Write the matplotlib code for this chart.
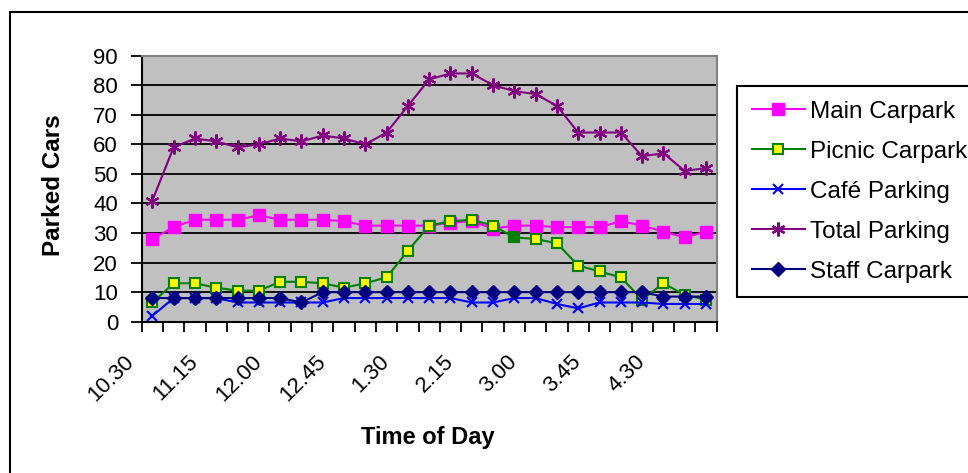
import matplotlib.pyplot as plt
import matplotlib.patches as patches
import matplotlib.transforms as mtransforms
import numpy as np

plt.rcParams['font.family'] = ['Liberation Sans', 'DejaVu Sans']

# quarter-hour readings from 10.30 to 5.00
times = ['10.30', '10.45', '11.00', '11.15', '11.30', '11.45', '12.00', '12.15', '12.30',
         '12.45', '1.00', '1.15', '1.30', '1.45', '2.00', '2.15', '2.30', '2.45',
         '3.00', '3.15', '3.30', '3.45', '4.00', '4.15', '4.30', '4.45', '5.00']

main_carpark = [28, 32, 34.5, 34.5, 34.5, 36, 34.5, 34.5, 34.5, 34, 32.5, 32.5, 32.5, 32.5,
                33.5, 34, 31.5, 32.5, 32.5, 32, 32, 32, 34, 32.5, 30.5, 28.5, 30.5]
picnic_carpark = [6.5, 13, 13, 11.5, 10.5, 10.5, 13.5, 13.5, 13, 11.5, 13, 15, 24, 32.5,
                  34, 34.5, 32.5, 28.5, 28, 26.5, 19, 17, 15, 7.5, 13, 9, 7.5]
cafe_parking = [2, 8, 8, 8, 6.5, 6.5, 6.5, 6.5, 6.5, 8, 8, 8, 8, 8,
                8, 6.5, 6.5, 8, 8, 6, 4.5, 6.5, 6.5, 6.5, 6, 6, 6]
total_parking = [41, 59, 62, 61, 59, 60, 62, 61, 63, 62, 60, 64, 73, 82,
                 84, 84, 80, 78, 77, 73, 64, 64, 64, 56, 57, 51, 52]
staff_carpark = [8, 8, 8, 8, 8, 8, 8, 6.5, 10, 10, 10, 10, 10, 10,
                 10, 10, 10, 10, 10, 10, 10, 10, 10, 10, 8.5, 8.5, 8.5]
highlight_idx = 17  # picnic reading shown with a solid marker

x = np.arange(len(times))

fig = plt.figure(figsize=(9.68, 4.73), dpi=100)
ax = fig.add_axes([141.7 / 968, 1 - 321.7 / 473, 575 / 968, 266 / 473])
ax.set_facecolor('#C0C0C0')

asterisk = (6, 2, 0)
ax.plot(x, main_carpark, color='#FF00FF', lw=1.5, marker='s', ms=8,
        mfc='#FF00FF', mec='#FF00FF', label='Main Carpark', zorder=3)
ax.plot(x, picnic_carpark, color='#008000', lw=1.5, marker='s', ms=7,
        mfc='#FFFF00', mec='#008000', mew=1.5, label='Picnic Carpark', zorder=4)
ax.plot(x[highlight_idx], picnic_carpark[highlight_idx], ls='none', marker='s', ms=7,
        mfc='#008000', mec='#008000', mew=1.5, zorder=4)
ax.plot(x, cafe_parking, color='#0000FF', lw=1.5, marker='x', ms=7, mew=1.5,
        label='Café Parking', zorder=5)
ax.plot(x, total_parking, color='#800080', lw=1.5, marker=asterisk, ms=10, mew=1.6,
        label='Total Parking', zorder=6)
ax.plot(x, staff_carpark, color='#000080', lw=1.5, marker='D', ms=7,
        mfc='#000080', mec='#000080', label='Staff Carpark', zorder=7)

ax.set_xlim(-0.5, len(times) - 0.5)
ax.set_ylim(0, 90)
ax.set_yticks(np.arange(0, 91, 10))
ax.yaxis.grid(True, color='black', lw=1.3)
ax.set_axisbelow(True)

# tick marks sit between categories, labels every third category
ax.set_xticks(np.arange(-0.5, len(times), 1.0))
ax.set_xticklabels([])
ax.set_xticks(x[::3], times[::3], minor=True)
ax.tick_params(axis='x', which='major', direction='out', length=7, width=1.3, color='black')
ax.tick_params(axis='x', which='minor', length=0, pad=21, labelsize=16)
offset = mtransforms.ScaledTranslation(-0.14, 0, fig.dpi_scale_trans)
for lbl in ax.get_xticklabels(minor=True):
    lbl.set_rotation(45)
    lbl.set_ha('right')
    lbl.set_va('top')
    lbl.set_transform(lbl.get_transform() + offset)
ax.tick_params(axis='y', direction='out', length=8, width=1.3, color='black',
               pad=9, labelsize=16)

for side in ['top', 'right']:
    ax.spines[side].set_color('#808080')
    ax.spines[side].set_linewidth(1.5)
for side in ['left', 'bottom']:
    ax.spines[side].set_color('black')
    ax.spines[side].set_linewidth(1.5)

fig.text(428 / 968, 1 - 437 / 473, 'Time of Day', ha='center', va='center',
         fontsize=17, fontweight='bold')
fig.text(53 / 968, 1 - 185 / 473, 'Parked Cars', ha='center', va='center',
         rotation=90, fontsize=17.5, fontweight='bold')

leg = ax.legend(loc='upper left', bbox_to_anchor=(737 / 968, 1 - 86 / 473),
                bbox_transform=fig.transFigure, borderaxespad=0, fontsize=17.5,
                frameon=True, fancybox=False, edgecolor='black', framealpha=1,
                handlelength=2.2, handletextpad=0.2, labelspacing=0.74,
                borderpad=0.6)
leg.get_frame().set_linewidth(1.5)

# chart border
fig.patches.append(patches.Rectangle((10 / 968, -0.1), 1.2, 1 - 12 / 473 + 0.1,
                                     transform=fig.transFigure, fill=False,
                                     edgecolor='black', lw=1.5))

fig.savefig('out.png', dpi=100)
